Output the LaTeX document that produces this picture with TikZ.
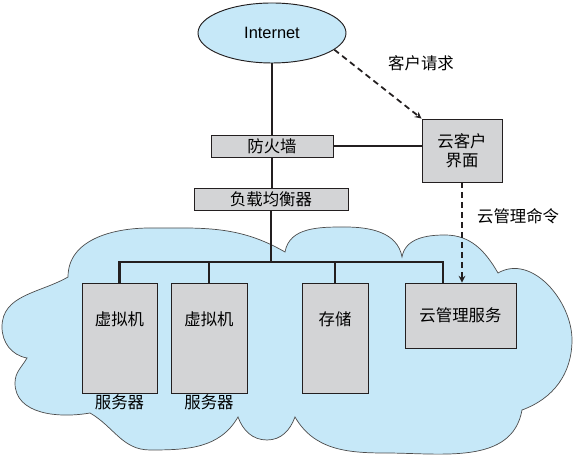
\documentclass[tikz,border=0pt]{standalone}
\usepackage{fontspec}
\setmainfont{Liberation Sans}
\newfontfamily\cjk{Noto Sans CJK SC}
\usetikzlibrary{shapes.geometric,positioning}
\definecolor{skyblue}{RGB}{198,232,248}
\definecolor{boxgray}{RGB}{211,212,214}
\definecolor{edgegray}{RGB}{35,31,32}

\begin{document}
\begin{tikzpicture}[x=0.03cm,y=0.03cm,>=stealth,
    font=\fontsize{14}{16}\selectfont\cjk,
    box/.style={rectangle,draw=edgegray,fill=boxgray,line width=0.8pt,inner sep=0pt},
    link/.style={line width=2pt,draw=edgegray},
    msg/.style={->,line width=1.5pt,draw=edgegray,dash pattern=on 5pt off 3.5pt}]
  \useasboundingbox (0,0) rectangle (575,459);

  % the cloud
  \draw[fill=skyblue,draw=gray!60!black,line width=0.6pt]
    (68,182) to[out=90,in=180] (150,231) to[out=0,in=150] (285,207)
    to[out=80,in=180] (345,232) to[out=0,in=100] (402,202)
    to[out=80,in=180] (445,224) to[out=0,in=120] (498,186)
    to[out=30,in=90] (572,119) to[out=-90,in=20] (522,49)
    to[out=-100,in=0] (385,6) to[out=180,in=-60] (295,42)
    to[out=-110,in=0] (267,19) to[out=180,in=-70] (238,42)
    to[out=-120,in=0] (150,9) to[out=180,in=-30] (90,46)
    to[out=190,in=-90] (15,76) to[out=90,in=-120] (27,101)
    to[out=170,in=-90] (2,132) to[out=90,in=-150] cycle;

  \node[ellipse,draw=edgegray,fill=skyblue,line width=0.8pt,minimum width=4.44cm,
    minimum height=1.8cm,font=\fontsize{14}{16}\selectfont\rmfamily] (net) at (272,426) {Internet};
  \node[box,minimum width=3.66cm,minimum height=0.66cm] (fw) at (272,313) {防火墙};
  \node[box,minimum width=4.62cm,minimum height=0.66cm] (lb) at (271,260) {负载均衡器};
  \node[box,minimum width=2.4cm,minimum height=1.89cm,align=center] (client) at (462,308.5) {云客户\\界面};

  \node[box,minimum width=2.25cm,minimum height=3.3cm,
    label={[anchor=north,yshift=-0.75cm]north:虚拟机},
    label={[inner sep=1pt]below:服务器}] (vm1) at (119.5,121) {};
  \node[box,minimum width=2.28cm,minimum height=3.3cm,
    label={[anchor=north,yshift=-0.75cm]north:虚拟机},
    label={[inner sep=1pt]below:服务器}] (vm2) at (209,121) {};
  \node[box,minimum width=1.98cm,minimum height=3.3cm,
    label={[anchor=north,yshift=-0.75cm]north:存储}] (store) at (335,121) {};
  \node[box,minimum width=3.33cm,minimum height=1.95cm] (mgmt) at (460.5,143.5) {云管理服务};

  \node (req) at (421,396) {客户请求};
  \node[anchor=west] (cmd) at (473,243) {云管理命令};
  \coordinate (busR) at (443,197);

  \draw[link] (net.south) -- (fw.north);
  \draw[link] (fw.south) -- (fw.south |- lb.north);
  \draw[link] (fw.east) -- (fw.east -| client.west);
  \draw[link] (lb.south) -- (lb.south |- busR);
  \draw[link] (vm1.north) |- (busR) -- (busR |- mgmt.north);
  \draw[link] (vm2.north) -- (vm2.north |- busR);
  \draw[link] (store.north) -- (store.north |- busR);

  \draw[msg] (net.-15) -- (client.north west);
  \draw[msg] (client.south) -- (client.south |- mgmt.north);
\end{tikzpicture}
\end{document}
